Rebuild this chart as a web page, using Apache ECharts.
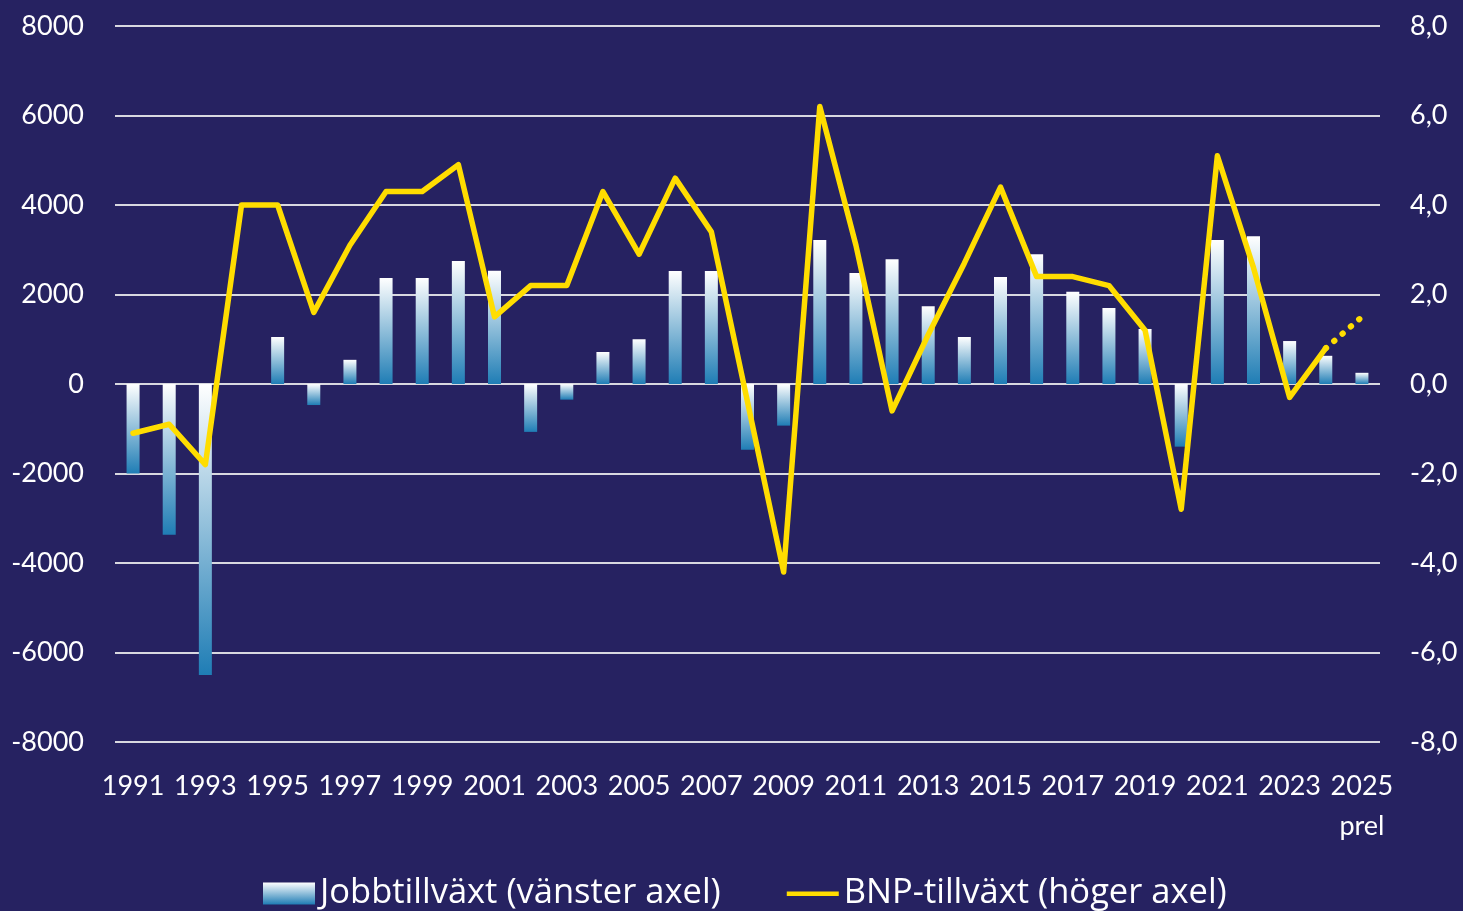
<!DOCTYPE html>
<html><head><meta charset="utf-8">
<script src="https://cdn.jsdelivr.net/npm/echarts@6/dist/echarts.min.js"></script>
<style>html,body{margin:0;padding:0;background:#262261;}#c{width:1463px;height:911px;}</style>
</head><body><div id="c"></div>
<script>
const years = ['1991','1992','1993','1994','1995','1996','1997','1998','1999','2000','2001','2002','2003','2004','2005','2006','2007','2008','2009','2010','2011','2012','2013','2014','2015','2016','2017','2018','2019','2020','2021','2022','2023','2024','2025\nprel'];
const jobGrowth = [-2000,-3370,-6500,0,1050,-470,540,2370,2370,2750,2530,-1070,-350,715,1000,2525,2525,-1470,-930,3220,2480,2790,1740,1050,2390,2900,2060,1700,1230,-1400,3220,3300,960,630,250];
const gdpGrowth = [-1.1,-0.9,-1.8,4.0,4.0,1.6,3.1,4.3,4.3,4.9,1.5,2.2,2.2,4.3,2.9,4.6,3.4,-0.4,-4.2,6.2,3.1,-0.6,1.1,2.7,4.4,2.4,2.4,2.2,1.2,-2.8,5.1,2.6,-0.3,0.8,null];
const gdpPrel = [null,null,null,null,null,null,null,null,null,null,null,null,null,null,null,null,null,null,null,null,null,null,null,null,null,null,null,null,null,null,null,null,null,0.8,1.5];
const leftTicks = {min:-8000,max:8000,interval:2000};
const rightTicks = {min:-8,max:8,interval:2};
const names = ['Jobbtillväxt (vänster axel)','BNP-tillväxt (höger axel)'];

const FONT = 'Lato';
const chart = echarts.init(document.getElementById('c'));
const barGrad = new echarts.graphic.LinearGradient(0,0,0,1,[{offset:0,color:'#ffffff'},{offset:1,color:'#1f7db5'}]);
chart.setOption({
  backgroundColor:'#262261',
  animation:false,
  grid:{left:115,right:83,top:26,bottom:169},
  legend:{
    top:871,left:258,itemWidth:52,itemHeight:22,itemGap:66,
    textStyle:{color:'#ffffff',fontSize:34.5,fontFamily:'Open Sans'},
    data:[{name:names[0],icon:'rect'},
          {name:names[1],icon:'path://M0,0 M0,9 L52,9 L52,13.5 L0,13.5 Z M52,22'}]
  },
  xAxis:{
    type:'category',data:years,
    axisLine:{show:false},axisTick:{show:false},
    axisLabel:{interval:1,color:'#ffffff',fontSize:27,fontFamily:FONT,margin:24,lineHeight:40}
  },
  yAxis:[
    {type:'value',min:leftTicks.min,max:leftTicks.max,interval:leftTicks.interval,
     axisLabel:{color:'#ffffff',fontSize:27,fontFamily:FONT,margin:31,formatter:v=>String(v)},
     splitLine:{lineStyle:{color:'#d8d8e0',width:2}},axisLine:{show:false},axisTick:{show:false}},
    {type:'value',min:rightTicks.min,max:rightTicks.max,interval:rightTicks.interval,position:'right',
     axisLabel:{color:'#ffffff',fontSize:27,fontFamily:FONT,margin:30,
       formatter:v=>v.toFixed(1).replace('.',',')},
     splitLine:{show:false},axisLine:{show:false},axisTick:{show:false}}
  ],
  series:[
    {name:names[0],type:'bar',data:jobGrowth,barWidth:13,yAxisIndex:0,
     itemStyle:{color:barGrad}},
    {name:names[1],type:'line',data:gdpGrowth,yAxisIndex:1,symbol:'none',
     itemStyle:{color:'#ffdd00'},
     lineStyle:{color:'#ffdd00',width:5.5,join:'round',cap:'round'}},
    {name:'prel',type:'line',data:gdpPrel,yAxisIndex:1,symbol:'none',
     lineStyle:{color:'#ffdd00',width:6,type:[0.5,10.5],cap:'round'}}
  ]
});
</script></body></html>
